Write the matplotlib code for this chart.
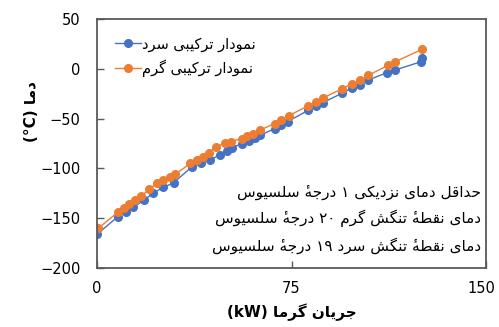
import matplotlib
matplotlib.use("Agg")
import matplotlib.pyplot as plt
from matplotlib.transforms import ScaledTranslation

# Composite curves data (heat flow kW, temperature degC)
cold_q = [0, 8, 11, 14, 18, 21.5, 25.5, 29.5, 36.5, 40, 43.5, 47.5, 50, 52, 56,
          58.5, 61, 63, 68.5, 71, 73.5, 81.5, 84.5, 87, 94.5, 98.2, 101.4,
          104.6, 111.7, 115, 124.8, 125.2]
cold_t = [-166, -148.5, -143.5, -139, -132, -125, -119, -114.5, -98.5, -95, -91,
          -86.5, -82, -79, -75, -72.5, -69, -66.5, -60, -56.5, -53, -41.5, -37.5,
          -34, -24.5, -19.5, -16.3, -11.2, -4, -1.2, 7, 10.5]
hot_q = [0.5, 8, 10.5, 12.5, 14.5, 17, 20, 23, 25.5, 28, 30, 36, 38.5, 41, 43,
         46, 49.5, 51.5, 56, 58, 60, 62.8, 68.5, 71, 74, 81.5, 84.3, 87, 94.5,
         98.2, 101.4, 104.6, 112.3, 115, 125.2]
hot_t = [-160, -144, -140, -136, -132, -128, -121, -115, -112, -109, -106, -95,
         -92, -88, -84.5, -78, -74.5, -73, -70, -67.5, -65, -61.5, -55, -51, -47,
         -37, -33, -29.5, -20, -15, -11.5, -6.5, 3.5, 7, 19.5]

x_ticks = [0, 75, 150]
y_ticks = [-200, -150, -100, -50, 0, 50]

label_cold = "نمودار ترکیبی سرد"
label_hot = "نمودار ترکیبی گرم"
notes = [
    "حداقل دمای نزدیکی ۱ درجۀ سلسیوس",
    "دمای نقطۀ تنگش گرم ۲۰ درجۀ سلسیوس",
    "دمای نقطۀ تنگش سرد ۱۹ درجۀ سلسیوس",
]
xlabel_fa = "جریان گرما"
ylabel_fa = "دما"

# Minimal Persian shaping (presentation forms) + right-to-left ordering
FORMS = {
    'ا': ('\uFE8D', '\uFE8E', None, None),
    'ب': ('\uFE8F', '\uFE90', '\uFE91', '\uFE92'),
    'ت': ('\uFE95', '\uFE96', '\uFE97', '\uFE98'),
    'ج': ('\uFE9D', '\uFE9E', '\uFE9F', '\uFEA0'),
    'ح': ('\uFEA1', '\uFEA2', '\uFEA3', '\uFEA4'),
    'د': ('\uFEA9', '\uFEAA', None, None),
    'ر': ('\uFEAD', '\uFEAE', None, None),
    'ز': ('\uFEAF', '\uFEB0', None, None),
    'س': ('\uFEB1', '\uFEB2', '\uFEB3', '\uFEB4'),
    'ش': ('\uFEB5', '\uFEB6', '\uFEB7', '\uFEB8'),
    'ط': ('\uFEC1', '\uFEC2', '\uFEC3', '\uFEC4'),
    'ق': ('\uFED5', '\uFED6', '\uFED7', '\uFED8'),
    'ل': ('\uFEDD', '\uFEDE', '\uFEDF', '\uFEE0'),
    'م': ('\uFEE1', '\uFEE2', '\uFEE3', '\uFEE4'),
    'ن': ('\uFEE5', '\uFEE6', '\uFEE7', '\uFEE8'),
    'ه': ('\uFEE9', '\uFEEA', '\uFEEB', '\uFEEC'),
    'و': ('\uFEED', '\uFEEE', None, None),
    'ی': ('\uFBFC', '\uFBFD', '\uFBFE', '\uFBFF'),
    'ک': ('\uFB8E', '\uFB8F', '\uFB90', '\uFB91'),
    'گ': ('\uFB92', '\uFB93', '\uFB94', '\uFB95'),
    # heh with hamza above: combining hamza drawn over the heh form
    'ۀ': ('\u0654\uFEE9', '\u0654\uFEEA', None, None),
}


def shape_word(w):
    out = []
    for i, c in enumerate(w):
        if c not in FORMS:
            out.append(c)
            continue
        iso, fin, ini, med = FORMS[c]
        prev = w[i - 1] if i > 0 else None
        nxt = w[i + 1] if i + 1 < len(w) else None
        jp = prev in FORMS and FORMS[prev][2] is not None
        jn = ini is not None and nxt in FORMS
        if jp and jn:
            out.append(med)
        elif jp:
            out.append(fin)
        elif jn:
            out.append(ini)
        else:
            out.append(iso)
    return out


def rtl(text):
    words = []
    for w in text.split(" "):
        if any(c in FORMS for c in w):
            words.append("".join(shape_word(w)[::-1]))
        else:
            words.append(w)
    return " ".join(words[::-1])


plt.rcParams.update({
    "font.family": ["DejaVu Sans"],
    "font.size": 11,
})

blue = "#4472C4"
orange = "#ED7D31"
spine_col = "#595959"

fig = plt.figure(figsize=(4.99, 3.27), dpi=100)
ax = fig.add_axes([0.1944, 0.180, 0.7796, 0.762])

ax.plot(cold_q, cold_t, color=blue, marker="o", markersize=5.5, linewidth=1.0,
        label=rtl(label_cold))
ax.plot(hot_q, hot_t, color=orange, marker="o", markersize=5.5, linewidth=1.0,
        label=rtl(label_hot))

ax.set_xlim(0, 150)
ax.set_ylim(-200, 50)
ax.set_xticks(x_ticks)
ax.set_yticks(y_ticks)
ax.tick_params(direction="in", length=5, width=1, colors=spine_col,
               labelcolor="black", labelsize=10.5)
ax.tick_params(axis="y", pad=12)
ax.tick_params(axis="x", pad=9)
for s in ax.spines.values():
    s.set_color(spine_col)
    s.set_linewidth(1.3)

# keep the last x tick label inside the canvas
last_lbl = ax.get_xticklabels()[-1]
last_lbl.set_transform(last_lbl.get_transform()
                       + ScaledTranslation(-3 / 72, 0, fig.dpi_scale_trans))

ax.set_xlabel("(kW) " + rtl(xlabel_fa), fontweight="bold", fontsize=11)
ax.set_ylabel("(°C) " + rtl(ylabel_fa), fontweight="bold", fontsize=11)
ax.yaxis.set_label_coords(-0.15, 0.63)
ax.xaxis.set_label_coords(0.5, -0.14)

ax.legend(loc="upper left", frameon=False, fontsize=10.5, handlelength=1.8,
          handletextpad=0.1, borderaxespad=0.8, labelspacing=0.55)

note_y = [0.305, 0.2, 0.09]
for txt, yy in zip(notes, note_y):
    ax.text(0.987, yy, rtl(txt), transform=ax.transAxes, ha="right",
            va="center", fontsize=11)

fig.savefig("out.png", dpi=100)
